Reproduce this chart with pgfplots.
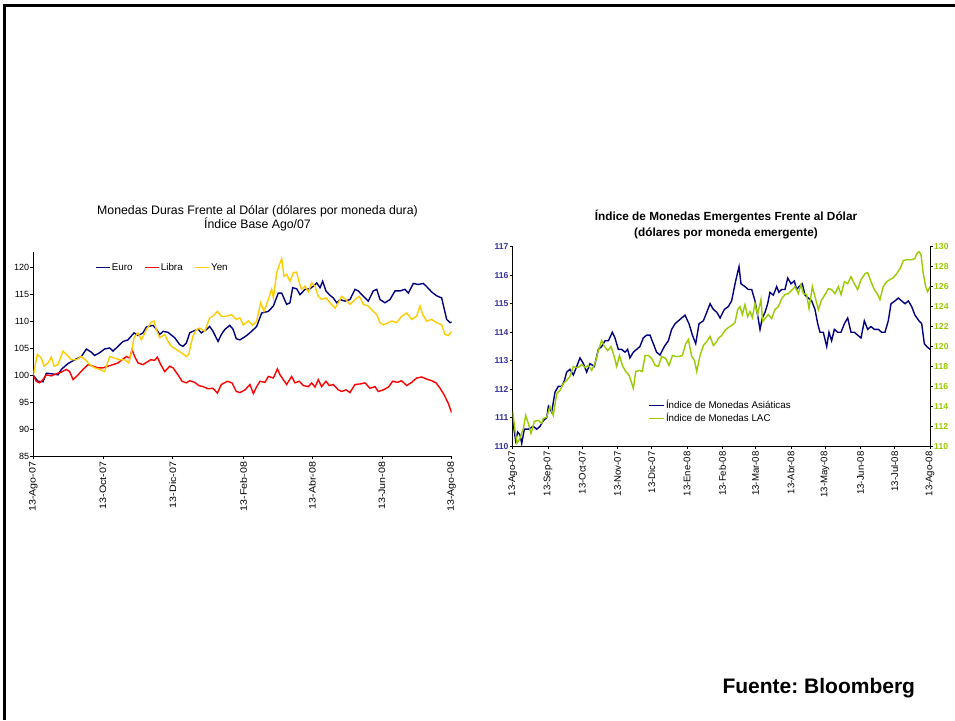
\documentclass[border=0pt]{standalone}
\usepackage{fontspec}
\setmainfont{Liberation Sans}
\newfontfamily\widefont[FakeStretch=1.15]{Liberation Sans}
\usepackage{pgfplots}
\pgfplotsset{compat=1.18}
\definecolor{euro}{RGB}{0,0,128}
\definecolor{libra}{RGB}{255,0,0}
\definecolor{yen}{RGB}{255,204,0}
\definecolor{lac}{RGB}{153,204,0}
\definecolor{lblue}{RGB}{51,51,153}
\frenchspacing
\begin{document}
\begin{tikzpicture}
\fill[white] (0pt,0pt) rectangle (955pt,720pt);
\draw[line width=2.5pt] (4.7pt,0pt) -- (4.7pt,714.7pt) -- (955pt,714.7pt);

% ---------- Left chart ----------
\node[align=center, font=\fontsize{12.3}{14}\selectfont] at (257.5pt,502pt) {Monedas Duras Frente al Dólar (dólares por moneda dura)\\Índice Base Ago/07};
\begin{axis}[
  at={(33.3pt,264pt)}, anchor=south west, scale only axis,
  width=418.4pt, height=204.3pt,
  xmin=0, xmax=366, ymin=85, ymax=123,
  axis lines=left, axis line style={-, black, line width=0.8pt},
  xtick={0,61,122,184,244,305,366},
  xticklabels={13-Ago-07,13-Oct-07,13-Dic-07,13-Feb-08,13-Abr-08,13-Jun-08,13-Ago-08},
  ytick={85,90,...,120},
  tick align=outside, major tick length=3pt, tick style={black, line width=0.8pt},
  x tick label style={rotate=90, anchor=east, font=\widefont\fontsize{9.3}{11}\selectfont, inner sep=2.5pt},
  y tick label style={font=\fontsize{9}{11}\selectfont, inner sep=1pt},
  /pgf/number format/assume math mode=true,
  legend columns=3,
  legend style={at={(0.148,0.9217)}, anchor=west, draw=none, fill=none, inner sep=0pt,
    font=\fontsize{9.8}{11}\selectfont, nodes={inner sep=1pt},
    /tikz/every even column/.append style={column sep=11pt}},
  legend image code/.code={\draw[#1, line width=1.4pt] (0pt,0pt) -- (14pt,0pt);},
]
\addplot[color=euro, line width=1.4pt] coordinates {(0,100.0) (4.1,98.9) (8.5,98.8) (11.4,100.4) (15.8,100.3) (21.6,100.1) (24.5,101.1) (30.4,102.2) (36.2,102.9) (42,103.5) (46.4,104.9) (50.8,104.3) (53.7,103.7) (58,104.2) (62.4,104.9) (66.8,105.1) (69.7,104.5) (74.1,105.4) (78.5,106.3) (82.8,106.6) (88.1,107.9) (91.6,107.4) (96,107.9) (98.9,109.0) (104.7,109.3) (107.6,108.6) (110.6,107.6) (113.5,108.2) (117.8,108.0) (123.7,107.0) (128.1,105.7) (131,105.4) (133.9,106.0) (136.8,107.9) (139.7,108.2) (144.1,108.6) (147,107.9) (151.4,108.5) (154.3,109.1) (157.2,108.2) (161.6,106.3) (164.5,107.6) (167.4,108.5) (171.8,109.3) (174.7,108.6) (177.6,106.8) (180.8,106.6) (186.6,107.4) (191,108.2) (195.4,109.1) (199.8,111.6) (205.6,111.9) (210,112.9) (214.3,115.3) (217.3,115.3) (221.6,113.2) (224.5,113.5) (226.9,116.3) (230.4,116.1) (233.3,115.0) (237.7,116.0) (242,116.1) (245,116.6) (247.9,117.2) (250.8,116.3) (253.1,117.5) (256,115.7) (259,115.0) (262.4,114.4) (265.4,113.5) (268.3,114.1) (272.7,113.8) (277,114.1) (281.4,116.0) (284.3,115.7) (288.7,114.7) (293,113.8) (297.4,115.7) (300.4,116.0) (303.3,114.1) (307.6,113.5) (312,114.1) (316.4,115.7) (320.8,115.7) (325.1,116.0) (328.1,115.3) (332.4,117.1) (336.8,116.9) (341.2,117.1) (344.1,116.5) (348.5,115.5) (352.8,114.8) (357.2,114.4) (359.3,112.5) (361.6,110.4) (364.5,109.8) (366,109.9)};
\addlegendentry{Euro}
\addplot[color=libra, line width=1.4pt] coordinates {(0,100.0) (2.6,98.9) (5.5,98.6) (8.5,99.2) (11.4,100.1) (15.8,99.9) (20.2,100.3) (24.5,100.6) (28.9,101.1) (31.8,100.7) (34.8,99.2) (39.1,100.1) (43.5,101.1) (47.9,102.0) (52.2,101.7) (56.6,101.4) (61,101.4) (65.4,101.7) (69.7,102.0) (74.1,102.3) (77.6,102.9) (81.4,103.5) (84.3,103.2) (86.4,104.8) (88.7,103.5) (91.6,102.3) (96,102.0) (98.9,102.4) (102.7,102.9) (106.2,102.8) (108.5,103.4) (111.5,102.0) (115,100.7) (119.3,101.7) (122.2,101.4) (126.6,100.1) (130.1,98.9) (133.9,98.6) (136.8,99.0) (141.2,98.7) (144.7,98.1) (148.5,97.9) (152.9,97.5) (157.2,97.6) (161,96.7) (164.5,98.3) (169.8,98.9) (173.8,98.6) (177.6,97.0) (180.8,96.8) (185.2,97.3) (189.5,98.3) (192.5,96.6) (195.4,97.9) (198.3,98.9) (202.7,98.7) (205.6,99.8) (210,99.5) (213.5,101.2) (215.8,100.1) (218.7,99.2) (221.6,98.3) (226,99.8) (228.9,98.6) (232.7,98.9) (236.2,98.1) (240.6,97.9) (243.5,98.6) (246.4,97.8) (249.3,99.2) (252.2,97.9) (256,98.9) (259,98.1) (262.4,98.3) (266.8,97.3) (269.7,97.0) (273.5,97.3) (277,96.8) (281.4,98.3) (285.8,98.4) (290.2,98.6) (294.5,97.6) (298.9,97.9) (301.8,97.0) (306.2,97.3) (310.6,97.8) (314.4,98.9) (318.4,98.7) (322.2,99.0) (326.6,98.1) (331,98.7) (335.3,99.5) (339.7,99.7) (344.1,99.3) (348.5,99.0) (352.3,98.6) (355.8,97.6) (359.3,96.4) (363,94.8) (366,93.0)};
\addlegendentry{Libra}
\addplot[color=yen, line width=1.4pt] coordinates {(0,100.0) (3.5,103.9) (7,103.2) (9.4,101.7) (12.9,102.3) (15.8,103.4) (18.2,101.7) (21.6,102.0) (26,104.5) (28.9,103.9) (33.3,102.9) (37.7,102.9) (42,103.5) (45.5,102.9) (49.3,102.0) (53.7,101.4) (58,101.1) (62.4,100.7) (66.8,103.5) (71.2,103.2) (75.6,102.9) (79.9,102.9) (83.4,102.3) (86.4,104.8) (88.1,107.0) (91.6,107.9) (94.5,106.6) (98.9,108.5) (103.3,109.9) (105.6,110.1) (107.6,108.5) (110.6,107.0) (115,107.6) (117.8,106.3) (120.8,105.4) (125.2,104.8) (129.5,104.2) (133.9,103.5) (136,103.9) (137.4,105.4) (139.7,107.3) (142.6,108.5) (145.6,108.8) (150,108.2) (154.3,110.7) (157.2,111.0) (161,111.9) (164.5,111.0) (168.9,111.0) (173.3,111.3) (177.6,110.4) (180.8,110.7) (183.7,109.4) (188.1,110.1) (191.9,109.3) (195.4,110.1) (198.9,113.5) (201.8,111.9) (205.6,114.1) (208.5,116.0) (210,114.4) (212.9,119.1) (215.8,120.9) (217.3,121.7) (219.3,118.4) (221.6,118.8) (224.5,117.5) (227.5,119.1) (230.4,119.2) (232.7,117.2) (234.7,116.0) (237.7,116.6) (240.6,115.5) (243.5,117.2) (246.4,116.6) (249.3,114.7) (252.2,114.1) (256,114.4) (259.5,113.5) (263.9,112.5) (266.8,113.5) (269.7,114.7) (273.5,114.1) (277,113.2) (281.4,114.1) (285.2,114.7) (288.7,113.2) (293,112.9) (297.4,111.9) (300.4,111.3) (303.3,109.8) (306.2,109.4) (310.6,109.8) (313.5,110.1) (317.9,109.8) (322.2,111.0) (326.6,111.6) (331,110.4) (335.3,111.0) (338.3,112.9) (340.6,111.3) (344.1,110.1) (348.5,110.4) (352.8,109.8) (357.2,109.4) (360.1,107.6) (363,107.4) (366,108.2)};
\addlegendentry{Yen}
\end{axis}

% ---------- Right chart ----------
\node[align=center, font=\bfseries\fontsize{11.8}{15.6}\selectfont] at (726pt,495.5pt) {Índice de Monedas Emergentes Frente al Dólar\\(dólares por moneda emergente)};
\begin{axis}[
  at={(512.7pt,273.7pt)}, anchor=south west, scale only axis,
  width=417.3pt, height=199.6pt,
  xmin=0, xmax=366, ymin=110, ymax=117,
  axis x line=bottom, axis y line=left, axis line style={-, black, line width=0.8pt},
  xtick={0,31,61,92,122,153,184,213,244,274,305,335,366},
  xticklabels={13-Ago-07,13-Sep-07,13-Oct-07,13-Nov-07,13-Dic-07,13-Ene-08,13-Feb-08,13-Mar-08,13-Abr-08,13-May-08,13-Jun-08,13-Jul-08,13-Ago-08},
  ytick={110,111,...,117},
  tick align=outside, major tick length=3pt, tick style={black, line width=0.8pt},
  x tick label style={rotate=90, anchor=east, font=\fontsize{9.6}{11}\selectfont, inner sep=2pt},
  y tick label style={font=\bfseries\fontsize{8.6}{10}\selectfont, text=lblue, inner sep=1pt},
  /pgf/number format/assume math mode=true,
]
\addplot[color=euro, line width=1.4pt] coordinates {(0,110.9) (2.6,110.2) (4.4,110.5) (6.4,110.4) (7.9,110.1) (10.2,110.6) (13.7,110.6) (18.1,110.7) (21,110.6) (24,110.7) (26.9,110.9) (29.8,111.0) (31.3,111.4) (34.2,111.2) (37.1,111.9) (40,112.1) (43,112.1) (45.3,112.3) (47.3,112.6) (50.2,112.7) (53.2,112.5) (56.1,112.8) (59,113.1) (62,112.9) (64.9,112.6) (67.8,112.9) (71.6,112.8) (75.1,113.4) (78,113.5) (81,113.7) (83.9,113.7) (87.4,114.0) (89.7,113.8) (92.6,113.4) (95.5,113.4) (98.5,113.3) (100.8,113.4) (102.8,113.1) (105.8,113.3) (108.7,113.4) (111.6,113.5) (114.5,113.8) (117.5,113.9) (120.4,113.9) (123.3,113.6) (126.2,113.3) (129.2,113.2) (133,113.5) (136.5,113.7) (139.4,114.1) (142.4,114.3) (145.3,114.4) (148.2,114.5) (151.1,114.6) (154.6,114.3) (157.6,113.9) (160.5,113.6) (163.4,114.3) (167.2,114.4) (170.2,114.7) (173.1,115.0) (176,114.8) (179,114.7) (181.9,114.5) (185.6,114.8) (189.1,114.9) (192,115.1) (195,115.7) (197.3,116.1) (198.5,116.3) (200.2,115.7) (203.7,115.6) (206.6,115.5) (209.6,115.5) (212.5,115.1) (214.8,114.6) (216.9,114.1) (218.9,114.5) (221.3,114.7) (223.6,115.0) (225.6,115.4) (228.6,115.3) (231.5,115.6) (233.5,115.4) (235.9,115.5) (238.8,115.5) (241.2,115.9) (244.1,115.7) (247,115.8) (249,115.5) (251.1,115.6) (254,115.7) (256.4,115.3) (259.3,115.2) (262.2,115.1) (265.1,114.8) (267.5,114.3) (269.5,114.0) (272.4,114.0) (275.4,113.5) (277.4,114.0) (279.7,113.7) (282.1,114.1) (285,114.0) (287.9,114.0) (290.9,114.3) (293.8,114.5) (296.7,114.0) (299.6,114.0) (302.5,113.9) (305.5,113.8) (308.4,114.4) (311.3,114.1) (314.2,114.2) (317.2,114.1) (320.7,114.1) (323.6,114.0) (326.5,114.0) (329.4,114.4) (331.8,115.0) (335.3,115.1) (338.2,115.2) (341.1,115.1) (344.1,115.0) (347,115.1) (349.9,114.9) (352.8,114.6) (356.3,114.4) (358.7,114.3) (361,113.6) (363.1,113.5) (366,113.4)};
\end{axis}
\begin{axis}[
  at={(512.7pt,273.7pt)}, anchor=south west, scale only axis,
  width=417.3pt, height=199.6pt,
  xmin=0, xmax=366, ymin=110, ymax=130,
  axis x line=none, axis y line=right, axis line style={-, black, line width=0.8pt},
  ytick={110,112,...,130},
  tick align=outside, major tick length=3pt, tick style={black, line width=0.8pt},
  y tick label style={font=\bfseries\fontsize{8.6}{10}\selectfont, text=lac, inner sep=1pt},
  /pgf/number format/assume math mode=true,
  legend style={at={(0.324,0.173)}, anchor=west, draw=none, fill=none, inner sep=0pt,
    font=\fontsize{9.8}{11}\selectfont, nodes={inner sep=1.5pt}, legend cell align=left},
  legend image code/.code={\draw[#1, line width=1.4pt] (0pt,0pt) -- (15pt,0pt);},
]
\addlegendimage{color=euro, line width=1.4pt}
\addlegendentry{Índice de Monedas Asiáticas}
\addplot[color=lac, line width=1.4pt] coordinates {(0,113.5) (2,111.6) (3.8,110.3) (6.4,110.8) (9.4,111.8) (11.4,113.1) (13.7,112.3) (16.1,111.3) (19,112.5) (22.5,112.6) (25.4,112.3) (26.9,112.8) (29.8,112.9) (32.7,114.0) (35.6,113.1) (38.6,115.3) (41.5,115.6) (44.4,116.3) (47.3,116.6) (50.2,117.0) (53.2,118.0) (55.2,117.9) (57.6,117.9) (60.5,118.2) (63.4,117.9) (66.4,118.1) (69.3,117.6) (72.2,118.3) (75.1,119.6) (78,120.6) (80.4,120.0) (83.3,119.6) (86.2,120.0) (88.3,119.3) (91.2,118.0) (93.6,119.1) (96.2,118.1) (99.1,117.5) (102.1,117.1) (104.4,116.3) (105.8,115.8) (107.9,117.5) (110.8,117.6) (113.7,117.5) (116.1,119.1) (119,119.1) (121.9,118.8) (124.9,118.1) (127.8,118.0) (130.7,119.0) (134.2,118.8) (137.1,118.1) (140.1,119.1) (143,119.0) (145.9,119.0) (148.8,119.1) (151.8,120.3) (154.1,120.7) (157,119.0) (159.4,118.6) (161.4,117.5) (164.3,119.1) (167.2,120.1) (170.2,120.5) (173.1,121.0) (176,120.1) (179,120.5) (180.3,120.8) (183.2,121.1) (186.1,121.6) (189.1,121.9) (192,122.1) (195,122.4) (197.3,123.7) (199.3,124.0) (201.4,123.2) (203.7,124.2) (206,123.0) (208.1,123.5) (210.2,122.9) (212.5,124.3) (214.8,123.2) (217.7,124.7) (219.2,122.5) (221.3,122.8) (224.2,123.2) (227.1,122.8) (230,123.7) (233,124.0) (235.9,124.8) (238.8,125.2) (241.7,125.3) (245.2,125.7) (247.6,126.0) (250.5,125.3) (252.8,126.2) (254.9,125.3) (257.8,125.2) (259.9,123.8) (262.8,126.0) (265.1,125.0) (268.1,123.7) (271,124.7) (274.5,125.3) (276.8,125.8) (279.7,125.7) (282.7,125.3) (285.6,126.0) (288,125.2) (290.9,126.5) (293.8,126.3) (296.7,127.0) (299.6,126.3) (302.5,125.7) (305.5,126.7) (309,127.3) (311.3,127.4) (314.2,126.5) (317.2,125.7) (320.1,125.2) (322.1,124.7) (325,126.0) (328,126.5) (330.9,126.7) (333.8,126.9) (336.8,127.3) (339.7,127.8) (342.6,128.6) (345.5,128.7) (349.9,128.7) (352.8,128.8) (354.3,129.3) (356.3,129.5) (358.1,129.2) (360.1,127.3) (362.2,126.0) (363.9,125.5) (366,126.0)};
\addlegendentry{Índice de Monedas LAC}
\end{axis}

\node[anchor=base west, font=\bfseries\fontsize{21}{25}\selectfont] at (719pt,27pt) {Fuente: Bloomberg};
\pgfresetboundingbox
\useasboundingbox (0pt,0pt) rectangle (955pt,720pt);
\end{tikzpicture}
\end{document}
